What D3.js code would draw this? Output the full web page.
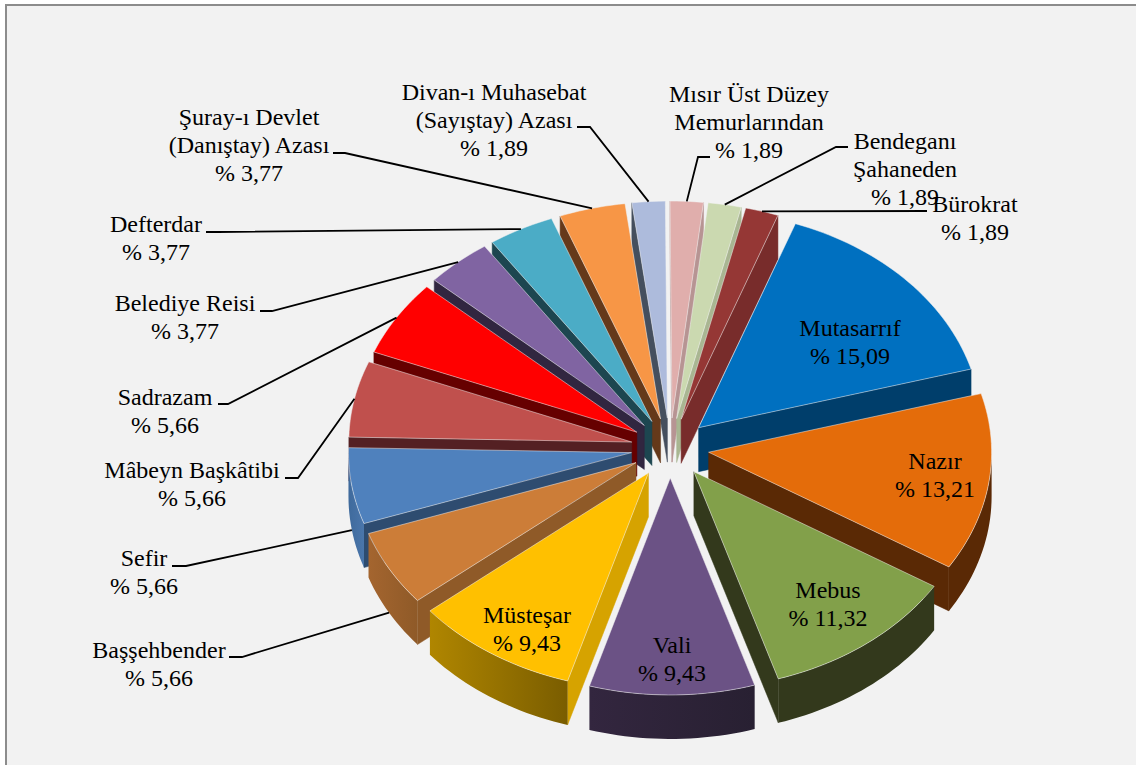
<!DOCTYPE html>
<html><head><meta charset="utf-8">
<script src="https://cdn.jsdelivr.net/npm/d3@7"></script>
<style>html,body{margin:0;padding:0;background:#fff;overflow:hidden}svg{display:block}</style>
</head><body>
<div id="chart"></div>
<script>
// Data
const categories = ["Mutasarrıf","Nazır","Mebus","Vali","Müsteşar","Başşehbender","Sefir","Mâbeyn Başkâtibi","Sadrazam","Belediye Reisi","Defterdar","Şuray-ı Devlet (Danıştay) Azası","Divan-ı Muhasebat (Sayıştay) Azası","Mısır Üst Düzey Memurlarından","Bendeganı Şahaneden","Bürokrat"];
const values = [15.09,13.21,11.32,9.43,9.43,5.66,5.66,5.66,5.66,3.77,3.77,3.77,1.89,1.89,1.89,1.89];
const valueLabels = ["% 15,09","% 13,21","% 11,32","% 9,43","% 9,43","% 5,66","% 5,66","% 5,66","% 5,66","% 3,77","% 3,77","% 3,77","% 1,89","% 1,89","% 1,89","% 1,89"];
const nameLines = [["Mutasarrıf"],["Nazır"],["Mebus"],["Vali"],["Müsteşar"],["Başşehbender"],["Sefir"],["Mâbeyn Başkâtibi"],["Sadrazam"],["Belediye Reisi"],["Defterdar"],["Şuray-ı Devlet","(Danıştay) Azası"],["Divan-ı Muhasebat","(Sayıştay) Azası"],["Mısır Üst Düzey","Memurlarından"],["Bendeganı","Şahaneden"],["Bürokrat"]];

// Styles and layout, separate from the data
const topColors  = ["#0070c0","#e46c0a","#82a04a","#6b5285","#ffc000","#cc7d38","#4f81bd","#c0504d","#ff0000","#8064a2","#4bacc6","#f79646","#adbbdc","#e0aeac","#cbd9b0","#953735"];
const wallColors = ["#003e6b","#5a2905","#33391c","#2b2035","#d6a300","#8f5a28","#2e4c70","#542023","#660000","#312640","#1d4650","#65391a","#454f5e","#b79493","#a9b692","#782c2b"];
const rimStart   = ["#003e6b","#5a2905","#33391c","#33263f","#b08600","#a4652f","#3f6a9c","#542023","#660000","#312640","#1d4650","#65391a","#454f5e","#b79493","#a9b692","#782c2b"];
const rimEnd     = ["#003e6b","#5a2905","#33391c","#282032","#7a5d00","#8f5a28","#4a76ab","#542023","#660000","#312640","#1d4650","#65391a","#454f5e","#b79493","#a9b692","#782c2b"];
const labelX = [850,935,828,672,527,159,144,192,165,185,156,249,494,749,905,975];
const labelY = [336,469,598,653,623,658,566,478,405,311,232,125,100,102,149,212];
const elbowX = [null,null,null,null,null,242,186,298,228,272,218,345,590,698,836,null];
const elbowY = [null,null,null,null,null,657,566,478,404,311,232,153,127,157,147,null];
const anchorX = [null,null,null,null,null,229,172,285,218,260,206,333,577,710,848,927];
const anchorY = [null,null,null,null,null,657,566,478,404,311,232,153,127,157,147,211];

const W = 1136, H = 765;
const cx = 670, cy = 448, R = 283, tilt = 0.767, explode = 39, depth = 44, lineH = 28;
const startDeg = 20;
const rad = d => d * Math.PI / 180;

const svg = d3.select("#chart").append("svg").attr("width", W).attr("height", H)
  .style("font-family", "'Liberation Serif','Times New Roman',serif");
const defs = svg.append("defs");

svg.append("rect").attr("x",6).attr("y",5).attr("width",W+10).attr("height",H+10)
  .attr("fill","#f2f2f2").attr("stroke","#8c8c8c").attr("stroke-width",2);

const pie = d3.pie().sort(null).startAngle(rad(startDeg)).endAngle(rad(startDeg+360));
const arcs = pie(values).map((d,i)=>({...d,i,mid:(d.startAngle+d.endAngle)/2}));

const radius = d3.scaleLinear().domain([0,1]).range([0,R]);
const pt = (d,a,r,z=0)=>{
  const ox = Math.sin(d.mid)*explode, oy = -Math.cos(d.mid)*explode*tilt;
  return [cx+ox+Math.sin(a)*r, cy+oy-Math.cos(a)*r*tilt+z];
};
const line = d3.line();
const arcPts = (d,a0,a1,z=0)=>{
  const n = Math.max(2,Math.ceil((a1-a0)/rad(1.5)));
  return d3.range(n+1).map(k=>pt(d,a0+(a1-a0)*k/n,radius(1),z));
};
const order = arcs.slice().sort((a,b)=>d3.ascending(-Math.cos(a.mid),-Math.cos(b.mid)));

const g = svg.append("g");
order.forEach(d=>{
  const s = g.append("g").attr("class","slice");
  const a0=d.startAngle, a1=d.endAngle;
  const wall = a=>{
    const p0=pt(d,a,0), p1=pt(d,a,radius(1));
    const z=[p0,p1,[p1[0],p1[1]+depth],[p0[0],p0[1]+depth]];
    s.append("path").attr("d",line(z)+"Z").attr("fill",wallColors[d.i]).attr("stroke",wallColors[d.i]).attr("stroke-width",0.5);
  };
  if (Math.sin(a0)<0) wall(a0);
  if (Math.sin(a1)>0) wall(a1);
  // front rim: the part of the arc that faces the viewer
  const f0=Math.max(a0,rad(90)), f1=Math.min(a1,rad(270));
  if (f1>f0){
    const top=arcPts(d,f0,f1), bot=arcPts(d,f0,f1,depth).reverse();
    const id="rim"+d.i;
    const xs=top.map(p=>p[0]);
    const gr=defs.append("linearGradient").attr("id",id).attr("gradientUnits","userSpaceOnUse")
      .attr("x1",d3.min(xs)).attr("x2",d3.max(xs)).attr("y1",0).attr("y2",0);
    gr.append("stop").attr("offset",0).attr("stop-color",rimStart[d.i]);
    gr.append("stop").attr("offset",1).attr("stop-color",rimEnd[d.i]);
    s.append("path").attr("d",line(top.concat(bot))+"Z").attr("fill",`url(#${id})`);
  }
  const topFace=[pt(d,a0,0)].concat(arcPts(d,a0,a1));
  s.append("path").attr("d",line(topFace)+"Z").attr("fill",topColors[d.i]).attr("stroke","#f2f2f2").attr("stroke-width",0.5);
});

// leader lines: from the label to the middle of the slice's outer edge
const leaders = svg.append("g").attr("fill","none").attr("stroke","#000").attr("stroke-width",1.8);
arcs.forEach(d=>{
  if (anchorX[d.i]===null) return;
  const front = Math.cos(d.mid)<0 && d.i>=5 && d.i<=6;
  const tip = pt(d,d.mid,radius(1),front?depth:0);
  const pts=[[anchorX[d.i],anchorY[d.i]]];
  if (elbowX[d.i]!==null) pts.push([elbowX[d.i],elbowY[d.i]]);
  pts.push(tip);
  leaders.append("path").attr("d",line(pts));
});

const labels = svg.append("g").attr("text-anchor","middle").attr("fill","#000").style("font-size","24px");
arcs.forEach(d=>{
  const lines = nameLines[d.i].concat([valueLabels[d.i]]);
  const t = labels.append("text").attr("x",labelX[d.i]).attr("y",labelY[d.i]);
  lines.forEach((l,k)=>t.append("tspan").attr("x",labelX[d.i]).attr("y",labelY[d.i]+k*lineH).style("white-space","pre").text(l));
});
</script>
</body></html>
